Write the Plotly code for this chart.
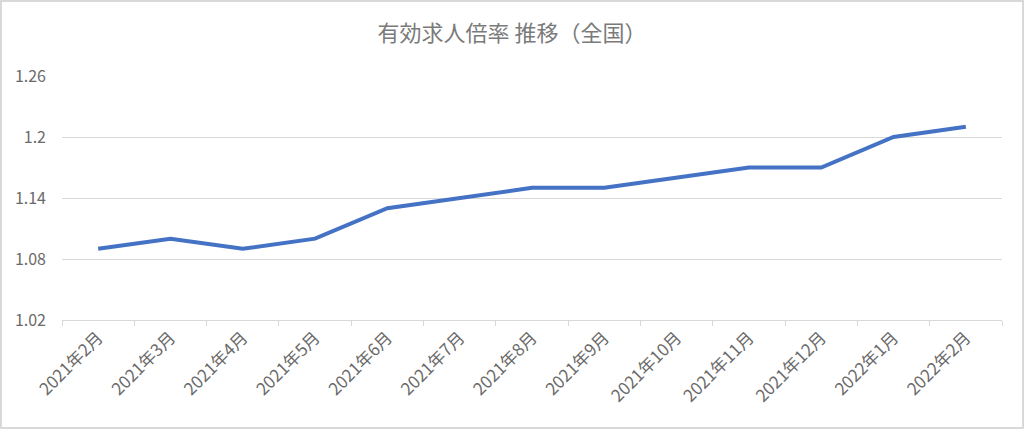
import plotly.graph_objects as go

months = ["2021年2月", "2021年3月", "2021年4月", "2021年5月", "2021年6月", "2021年7月",
          "2021年8月", "2021年9月", "2021年10月", "2021年11月", "2021年12月",
          "2022年1月", "2022年2月"]
ratio = [1.09, 1.10, 1.09, 1.10, 1.13, 1.14, 1.15, 1.15, 1.16, 1.17, 1.17, 1.20, 1.21]
y_ticks = [1.02, 1.08, 1.14, 1.2, 1.26]
y_tick_text = ["1.02", "1.08", "1.14", "1.2", "1.26"]
title_text = "有効求人倍率 推移（全国）"

W, H = 1024, 429
ml, mr, mt, mb = 62, 22, 76, 109
pw, ph = W - ml - mr, H - mt - mb

font_family = "Noto Sans CJK JP, Noto Sans, sans-serif"
grey_text = "#6a6a6a"
grid = "#d9d9d9"

fig = go.Figure()
fig.add_trace(go.Scatter(
    x=months, y=ratio, mode="lines",
    line=dict(color="#4472C4", width=4),
    hoverinfo="x+y",
))

fig.update_layout(
    width=W, height=H,
    margin=dict(l=ml, r=mr, t=mt, b=mb),
    paper_bgcolor="white", plot_bgcolor="white",
    showlegend=False,
    font=dict(family=font_family, color=grey_text, size=16),
    title=dict(text=title_text, x=0.5, xanchor="center", y=1 - 33 / H, yanchor="middle",
               font=dict(size=22, color="#7a7a7a", family=font_family)),
    xaxis=dict(
        type="category",
        showgrid=False,
        showline=True, linecolor=grid, linewidth=1,
        ticks="outside", tickson="boundaries", ticklen=5, tickcolor=grid,
        tickangle=-45,
        tickfont=dict(size=17, color=grey_text),
        range=[-0.5, len(months) - 0.5],
    ),
    yaxis=dict(
        range=[1.02, 1.26],
        tickvals=y_ticks, ticktext=y_tick_text,
        showgrid=True, gridcolor=grid, gridwidth=1,
        zeroline=False, showline=False,
        ticks="", ticklabelstandoff=15,
        tickfont=dict(size=16, color=grey_text),
    ),
)

# outer chart frame
fig.add_shape(
    type="rect", xref="paper", yref="paper",
    x0=-(ml - 1) / pw, x1=1 + (mr - 1) / pw,
    y0=-(mb - 1) / ph, y1=1 + (mt - 1) / ph,
    line=dict(color=grid, width=2), fillcolor="rgba(0,0,0,0)", layer="below",
)

fig.write_html("out.html",
               config={"displayModeBar": False},
               post_script="document.body.style.margin='0';document.body.style.overflow='hidden';")
